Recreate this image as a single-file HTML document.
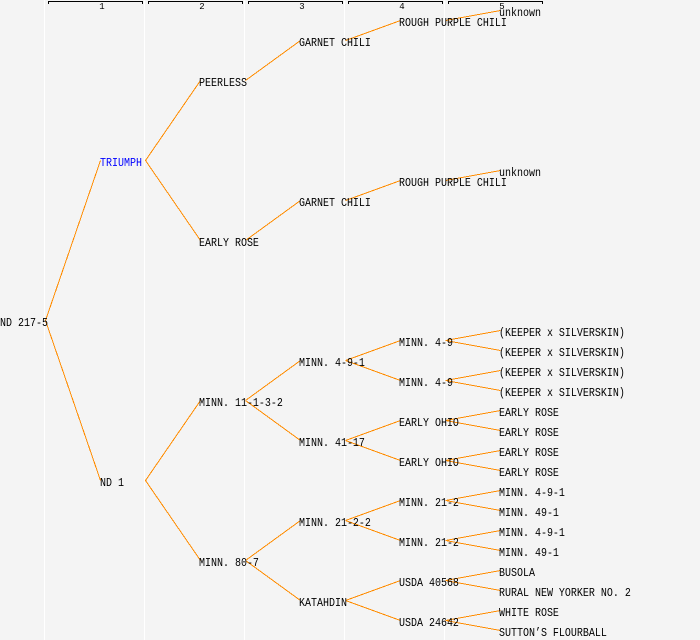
<!DOCTYPE html>
<html>
<head>
<meta charset="utf-8">
<style>
html,body{margin:0;padding:0;background:#f4f4f4;}
svg{display:block;}
text{font-family:"Liberation Mono",monospace;font-size:12px;fill:#000;}
text.h{font-size:9px;text-anchor:middle;}
</style>
</head>
<body>
<svg width="700" height="640" viewBox="0 0 700 640" xmlns="http://www.w3.org/2000/svg">
<rect width="700" height="640" fill="#f4f4f4"/>
<g stroke="#fff" stroke-width="1">
<path d="M44.500 0V640M144.500 0V640M244.500 0V640M344.500 0V640M444.500 0V640"/>
</g>
<g fill="none" stroke="#000" stroke-width="1" shape-rendering="crispEdges">
<path d="M48.500 4V1.500H142.500V4"/>
<path d="M148.500 4V1.500H242.500V4"/>
<path d="M248.500 4V1.500H342.500V4"/>
<path d="M348.500 4V1.500H442.500V4"/>
<path d="M448.500 4V1.500H542.500V4"/>
</g>
<text class="h" x="102" y="9">1</text>
<text class="h" x="202" y="9">2</text>
<text class="h" x="302" y="9">3</text>
<text class="h" x="402" y="9">4</text>
<text class="h" x="502" y="9">5</text>
<g fill="none" stroke="#ff8c00" stroke-width="1" shape-rendering="crispEdges" transform="translate(0.5,-0.5)">
<path d="M45 321L100 161M45 321L100 481"/>
<path d="M145 161L200 81M145 161L200 241M145 481L200 401M145 481L200 561"/>
<path d="M245 81L300 41M245 241L300 201M245 401L300 361M245 401L300 441M245 561L300 521M245 561L300 601"/>
<path d="M345 41L400 21M345 201L400 181M345 361L400 341M345 361L400 381M345 441L400 421M345 441L400 461M345 521L400 501M345 521L400 541M345 601L400 581M345 601L400 621"/>
<path d="M445 21L500 11M445 181L500 171M445 341L500 331M445 341L500 351M445 381L500 371M445 381L500 391M445 421L500 411M445 421L500 431M445 461L500 451M445 461L500 471M445 501L500 491M445 501L500 511M445 541L500 531M445 541L500 551M445 581L500 571M445 581L500 591M445 621L500 611M445 621L500 631"/>
</g>
<g transform="scale(0.83333,1)">
<text x="0" y="326">ND 217-5</text>
<text x="120" y="166" style="fill:#0000ff">TRIUMPH</text>
<text x="120" y="486">ND 1</text>
<text x="238.800" y="86">PEERLESS</text>
<text x="238.800" y="246">EARLY ROSE</text>
<text x="238.800" y="406">MINN. 11-1-3-2</text>
<text x="238.800" y="566">MINN. 80-7</text>
<text x="358.800" y="46">GARNET CHILI</text>
<text x="358.800" y="206">GARNET CHILI</text>
<text x="358.800" y="366">MINN. 4-9-1</text>
<text x="358.800" y="446">MINN. 41-17</text>
<text x="358.800" y="526">MINN. 21-2-2</text>
<text x="358.800" y="606">KATAHDIN</text>
<text x="478.800" y="26">ROUGH PURPLE CHILI</text>
<text x="478.800" y="186">ROUGH PURPLE CHILI</text>
<text x="478.800" y="346">MINN. 4-9</text>
<text x="478.800" y="386">MINN. 4-9</text>
<text x="478.800" y="426">EARLY OHIO</text>
<text x="478.800" y="466">EARLY OHIO</text>
<text x="478.800" y="506">MINN. 21-2</text>
<text x="478.800" y="546">MINN. 21-2</text>
<text x="478.800" y="586">USDA 40568</text>
<text x="478.800" y="626">USDA 24642</text>
<text x="598.800" y="16">unknown</text>
<text x="598.800" y="176">unknown</text>
<text x="598.800" y="336">(KEEPER x SILVERSKIN)</text>
<text x="598.800" y="356">(KEEPER x SILVERSKIN)</text>
<text x="598.800" y="376">(KEEPER x SILVERSKIN)</text>
<text x="598.800" y="396">(KEEPER x SILVERSKIN)</text>
<text x="598.800" y="416">EARLY ROSE</text>
<text x="598.800" y="436">EARLY ROSE</text>
<text x="598.800" y="456">EARLY ROSE</text>
<text x="598.800" y="476">EARLY ROSE</text>
<text x="598.800" y="496">MINN. 4-9-1</text>
<text x="598.800" y="516">MINN. 49-1</text>
<text x="598.800" y="536">MINN. 4-9-1</text>
<text x="598.800" y="556">MINN. 49-1</text>
<text x="598.800" y="576">BUSOLA</text>
<text x="598.800" y="596">RURAL NEW YORKER NO. 2</text>
<text x="598.800" y="616">WHITE ROSE</text>
<text x="598.800" y="636">SUTTON’S FLOURBALL</text>
</g>
</svg>
</body>
</html>
